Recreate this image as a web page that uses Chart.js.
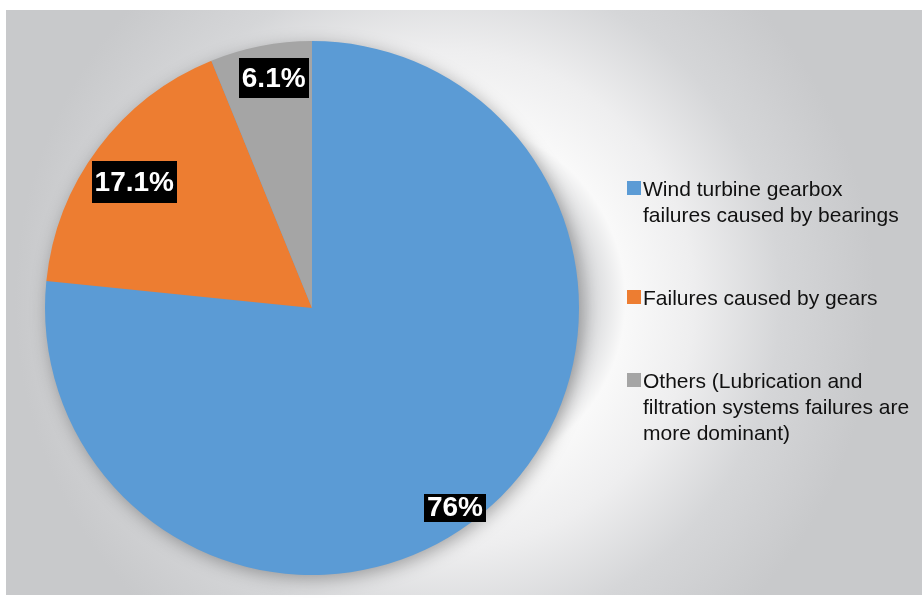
<!DOCTYPE html>
<html>
<head>
<meta charset="utf-8">
<style>
  html, body { margin: 0; padding: 0; background: #fff; }
  #wrap { position: relative; width: 922px; height: 600px; }
</style>
<script src="https://cdn.jsdelivr.net/npm/chart.js@4/dist/chart.umd.min.js"></script>
</head>
<body>
<div id="wrap"><canvas id="pie"></canvas></div>
<script>
  // data
  const categories = [
    ['Wind turbine gearbox', 'failures caused by bearings'],
    ['Failures caused by gears'],
    ['Others (Lubrication and', 'filtration systems failures are', 'more dominant)']
  ];
  const shares = [76, 17.1, 6.1];
  const sliceColors = ['#5b9bd5', '#ed7d31', '#a5a5a5'];

  // grey panel with a soft white halo behind the pie
  const backdrop = {
    id: 'backdrop',
    beforeDraw(chart) {
      const ctx = chart.ctx;
      ctx.save();
      ctx.fillStyle = '#fff';
      ctx.fillRect(0, 0, chart.width, chart.height);
      const g = ctx.createRadialGradient(445, 300, 0, 445, 300, 430);
      g.addColorStop(0, '#cfd0d2');
      g.addColorStop(0.33, '#d4d5d7');
      g.addColorStop(0.42, '#f9f9f9');
      g.addColorStop(0.58, '#eeeeef');
      g.addColorStop(0.78, '#d5d6d8');
      g.addColorStop(1, '#c8c9cb');
      ctx.fillStyle = g;
      ctx.fillRect(6, 10, chart.width - 6, 585);
      ctx.restore();
    },
    beforeDatasetsDraw(chart) {
      const arc = chart.getDatasetMeta(0).data[0];
      if (!arc) return;
      const ctx = chart.ctx;
      ctx.save();
      ctx.shadowColor = 'rgba(0,0,0,0.35)';
      ctx.shadowBlur = 18;
      ctx.shadowOffsetX = 3;
      ctx.shadowOffsetY = 4;
      ctx.fillStyle = '#5b9bd5';
      ctx.beginPath();
      ctx.arc(arc.x, arc.y, arc.outerRadius - 1, 0, Math.PI * 2);
      ctx.fill();
      ctx.restore();
    }
  };

  // black boxed value labels
  const boxLabels = {
    id: 'boxLabels',
    afterDatasetsDraw(chart, args, opts) {
      const ctx = chart.ctx;
      const meta = chart.getDatasetMeta(0);
      const values = chart.data.datasets[0].data;
      ctx.save();
      ctx.font = 'bold 28px "Liberation Sans", Arial, sans-serif';
      ctx.textAlign = 'center';
      ctx.textBaseline = 'middle';
      meta.data.forEach((arc, i) => {
        const a = (arc.startAngle + arc.endAngle) / 2 + opts.angleShift[i] * Math.PI / 180;
        const r = arc.outerRadius * opts.radius[i];
        const x = arc.x + Math.cos(a) * r;
        const y = arc.y + Math.sin(a) * r;
        const txt = values[i] + '%';
        const w = ctx.measureText(txt).width + 6;
        const h = 22 + opts.padY[i] * 2;
        ctx.fillStyle = '#000';
        ctx.fillRect(Math.round(x - w / 2), Math.round(y - h / 2), Math.round(w), Math.round(h));
        ctx.fillStyle = '#fff';
        ctx.fillText(txt, x, y + 1);
      });
      ctx.restore();
    }
  };

  // legend on the right, wrapped lines
  const sideLegend = {
    id: 'sideLegend',
    afterDraw(chart, args, opts) {
      const ctx = chart.ctx;
      const ds = chart.data.datasets[0];
      ctx.save();
      ctx.font = '21px "Liberation Sans", Arial, sans-serif';
      ctx.textAlign = 'left';
      ctx.textBaseline = 'alphabetic';
      let y = opts.top;
      chart.data.labels.forEach((lines, i) => {
        ctx.fillStyle = ds.backgroundColor[i];
        ctx.fillRect(opts.boxX, y - 7, 14, 14);
        ctx.fillStyle = '#111';
        lines.forEach((line, k) => {
          ctx.fillText(line, opts.textX, y + 7.5 + k * opts.lineHeight);
        });
        y += (lines.length - 1) * opts.lineHeight + opts.itemGap;
      });
      ctx.restore();
    }
  };

  new Chart(document.getElementById('pie'), {
    type: 'pie',
    data: {
      labels: categories,
      datasets: [{
        data: shares,
        backgroundColor: sliceColors,
        borderWidth: 0
      }]
    },
    options: {
      responsive: true,
      maintainAspectRatio: false,
      animation: false,
      layout: { padding: { left: 45, top: 41, right: 343, bottom: 25 } },
      plugins: {
        legend: { display: false },
        tooltip: { enabled: false },
        boxLabels: { angleShift: [6.5, -1.5, 1.6], radius: [0.92, 0.816, 0.872], padY: [3, 10, 9] },
        sideLegend: { boxX: 627, textX: 643, top: 188, lineHeight: 26, itemGap: 83 }
      }
    },
    plugins: [backdrop, boxLabels, sideLegend]
  });
</script>
</body>
</html>
